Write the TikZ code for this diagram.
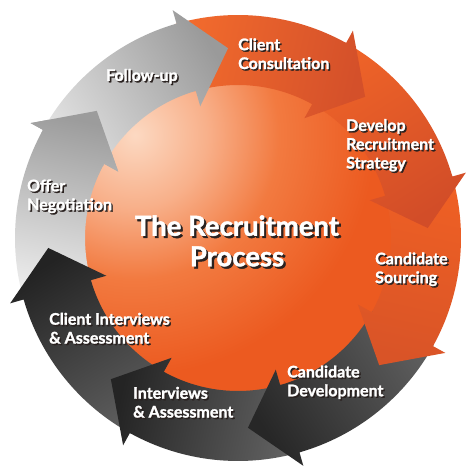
\documentclass[tikz,border=0pt]{standalone}
\usepackage{fontspec}
\setmainfont{Lato}[BoldFeatures={FakeBold=1.6}]
\usetikzlibrary{calc}
\definecolor{fuT}{HTML}{E0E0E0}\definecolor{fuH}{HTML}{9A9A9A}
\definecolor{ccT}{HTML}{F26B2D}\definecolor{ccH}{HTML}{D4502A}
\definecolor{drT}{HTML}{EE6328}\definecolor{drH}{HTML}{D24D28}
\definecolor{csT}{HTML}{EF6024}\definecolor{csH}{HTML}{D95427}
\definecolor{cdT}{HTML}{5E5E5E}\definecolor{cdH}{HTML}{272727}
\definecolor{ivT}{HTML}{626262}\definecolor{ivH}{HTML}{242424}
\definecolor{ciT}{HTML}{5C5C5C}\definecolor{ciH}{HTML}{232323}
\definecolor{ofT}{HTML}{EDEDED}\definecolor{ofH}{HTML}{9C9C9C}
\definecolor{dA}{HTML}{FCD9C2}\definecolor{dB}{HTML}{F8B08A}
\definecolor{dC}{HTML}{F27A40}\definecolor{dD}{HTML}{EC5A20}
\definecolor{shc}{HTML}{2A2220}
\pgfdeclareradialshading{discshade}{\pgfpoint{0bp}{0bp}}{color(0bp)=(dA); color(6bp)=(dB); color(12bp)=(dC); color(20bp)=(dD); color(50bp)=(dD)}
\tikzset{
  lbl/.style={font=\bfseries\fontsize{16}{18.8}\selectfont, text=white, align=left, anchor=west, inner sep=0pt},
  ttl/.style={font=\bfseries\fontsize{27.5}{30.5}\selectfont, text=white, align=center, inner sep=0pt},
}
\newcommand\sh[1]{\leavevmode\rlap{\hspace{1.5pt}\raisebox{-1.5pt}{\color{shc}#1}}#1}
\newcommand\shT[1]{\leavevmode\rlap{\hspace{2.2pt}\raisebox{-2.2pt}{\color{shc}#1}}#1}
\newcommand\arrowpath[1]{(#1+58.5:223pt) arc[start angle=#1+58.5, end angle=#1+13, radius=223pt] -- (#1+13:237pt) -- (#1:190pt) -- (#1+13:137pt) -- (#1+13:153pt) arc[start angle=#1+13, end angle=#1+58.5, radius=153pt] -- cycle}
\begin{document}
\begin{tikzpicture}[x=1pt,y=1pt]
\useasboundingbox (0,0) rectangle (474,474);
\fill[white] (0,0) rectangle (474,474);
\begin{scope}[shift={(238,236)}]
  \begin{scope}
    \clip (0,0) circle (156pt);
    \shade[shading=discshade] (-103,103) circle (300pt);
  \end{scope}
  \foreach \t/\ct/\ch in {-222/ofT/ofH, -177/ciT/ciH, -132/ivT/ivH, -87/cdT/cdH, -42/csT/csH, 3/drT/drH, 48/ccT/ccH, 93/fuT/fuH}{
    \pgfmathsetmacro\sa{\t-150.75}
    \shade[top color=\ch, bottom color=\ct, shading angle=\sa] \arrowpath{\t};
  }
  \begin{scope}
    \clip (0,0) -- (152:320pt) -- (144:320pt) -- (136:320pt) -- (130:320pt) -- cycle;
    \pgfmathsetmacro\sa{-222-150.75}
    \shade[top color=ofH, bottom color=ofT, shading angle=\sa] \arrowpath{-222};
  \end{scope}
\end{scope}
\node[lbl] (cc) at (238,419.5) {\sh{Client}\\\sh{Consultation}};
\node[lbl] (dr) at (346,328) {\sh{Develop}\\\sh{Recruitment}\\\sh{Strategy}};
\node[lbl] (cs) at (375,204) {\sh{Candidate}\\\sh{Sourcing}};
\node[lbl] (cd) at (287,91) {\sh{Candidate}\\\sh{Development}};
\node[lbl] (iv) at (133,71) {\sh{Interviews}\\\sh{\& Assessment}};
\node[lbl] (ci) at (49,145) {\sh{Client Interviews}\\\sh{\& Assessment}};
\node[lbl] (of) at (27,277) {\sh{Offer}\\\sh{Negotiation}};
\node[lbl] (fu) at (106,397) {\sh{Follow-up}};
\node[ttl] (title) at (237,232) {\shT{The Recruitment}\\\shT{Process}};
\end{tikzpicture}
\end{document}
